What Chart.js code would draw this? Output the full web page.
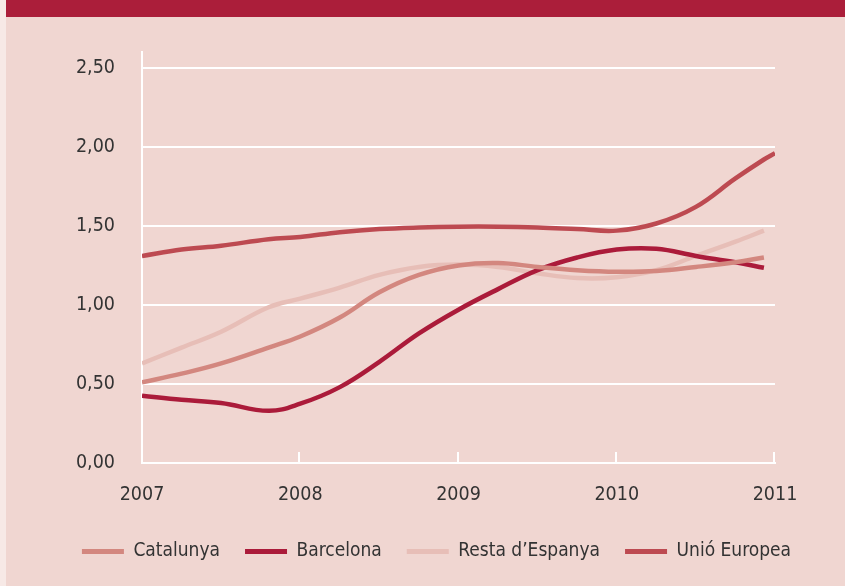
<!DOCTYPE html>
<html>
<head>
<meta charset="utf-8">
<script src="https://cdn.jsdelivr.net/npm/chart.js@4"></script>
<style>
  html, body { margin: 0; padding: 0; }
  body { width: 845px; height: 586px; background: #f7e9e6; overflow: hidden; }
  #frame { position: absolute; left: 6px; top: 0; width: 839px; height: 586px; background: #f0d6d1; }
  #header { height: 17px; background: #ab1e3a; }
  #wrap { position: absolute; left: 0; top: 17px; width: 839px; height: 569px; }
</style>
</head>
<body>
<div id="frame">
  <div id="header"></div>
  <div id="wrap"><canvas id="chart" width="839" height="569"></canvas></div>
</div>
<script>
// Data
const years = [2007, 2007.25, 2007.5, 2007.8, 2008, 2008.25, 2008.5, 2008.75, 2009, 2009.25, 2009.5, 2009.75, 2010, 2010.25, 2010.5, 2010.75, 2010.93, 2011];
const catalunya = [0.51, 0.565, 0.63, 0.73, 0.80, 0.92, 1.08, 1.19, 1.25, 1.265, 1.24, 1.22, 1.21, 1.215, 1.24, 1.27, 1.30, null];
const barcelona = [0.425, 0.40, 0.38, 0.33, 0.375, 0.48, 0.64, 0.82, 0.97, 1.10, 1.22, 1.30, 1.35, 1.355, 1.31, 1.27, 1.235, null];
const restaEspanya = [0.63, 0.73, 0.83, 0.985, 1.04, 1.11, 1.19, 1.24, 1.255, 1.24, 1.20, 1.17, 1.175, 1.22, 1.31, 1.40, 1.47, null];
const unioEuropea = [1.31, 1.35, 1.375, 1.415, 1.43, 1.46, 1.48, 1.49, 1.495, 1.495, 1.49, 1.48, 1.47, 1.515, 1.62, 1.80, 1.92, 1.96];
const yearTicks = [2007, 2008, 2009, 2010, 2011];
const valueTicks = [0, 0.5, 1, 1.5, 2, 2.5];

const seriesNames = ['Catalunya', 'Barcelona', 'Resta d\u2019Espanya', 'Unió Europea'];
const seriesColors = ['#d3877f', '#ab1b3a', '#e7beb7', '#bd4a51'];
const seriesValues = [catalunya, barcelona, restaEspanya, unioEuropea];

const FONT = '"Liberation Sans Narrow", "DejaVu Sans Condensed", sans-serif';

const toPoints = vals => years.map((y, i) => ({ x: y, y: vals[i] }));

// small upward tick marks on the x axis
const axisMarks = {
    id: 'axisMarks',
    beforeDatasetsDraw(chart) {
        const ctx = chart.ctx;
        const x = chart.scales.x;
        const y = chart.scales.y;
        const base = y.getPixelForValue(0);
        ctx.save();
        ctx.strokeStyle = '#ffffff';
        ctx.lineWidth = 2;
        yearTicks.slice(1).forEach(yr => {
            const px = Math.round(x.getPixelForValue(yr)) - 1;
            ctx.beginPath();
            ctx.moveTo(px, base);
            ctx.lineTo(px, base - 11);
            ctx.stroke();
        });
        ctx.restore();
    }
};

new Chart(document.getElementById('chart'), {
    type: 'line',
    data: {
        datasets: seriesNames.map((name, i) => ({
            label: name,
            data: toPoints(seriesValues[i]),
            borderColor: seriesColors[i],
            backgroundColor: seriesColors[i],
            borderWidth: 4.5,
            pointRadius: 0,
            tension: 0.4,
            fill: false
        }))
    },
    options: {
        responsive: false,
        animation: false,
        layout: { padding: { left: 22, top: 35, right: 0, bottom: 15 } },
        plugins: {
            tooltip: { enabled: false },
            legend: {
                position: 'bottom',
                labels: {
                    boxWidth: 42,
                    boxHeight: 5,
                    padding: 25,
                    color: '#333333',
                    font: { family: FONT, size: 19 },
                    generateLabels(chart) {
                        return Chart.defaults.plugins.legend.labels.generateLabels(chart).map(l => {
                            l.lineWidth = 0;
                            l.fillStyle = seriesColors[l.datasetIndex];
                            return l;
                        });
                    }
                }
            }
        },
        scales: {
            x: {
                type: 'linear',
                min: 2007,
                max: 2011,
                afterBuildTicks(scale) { scale.ticks = yearTicks.map(v => ({ value: v })); },
                afterFit(scale) { scale.height = 54; scale.paddingLeft = 0; scale.paddingRight = 0; },
                grid: { display: false, drawTicks: false },
                border: { display: true, color: '#ffffff', width: 2 },
                ticks: {
                    padding: 20,
                    maxRotation: 0,
                    color: '#333333',
                    font: { family: FONT, size: 19.5 },
                    callback: v => String(v)
                }
            },
            y: {
                min: 0,
                max: 2.6,
                afterBuildTicks(scale) { scale.ticks = valueTicks.concat([2.6]).map(v => ({ value: v })); },
                afterFit(scale) { scale.width = 114; scale.paddingTop = 0; scale.paddingBottom = 0; },
                grid: {
                    drawTicks: false,
                    lineWidth: 2,
                    color: ctx => ctx.tick && ctx.tick.value > 2.55 ? 'rgba(0,0,0,0)' : '#ffffff'
                },
                border: { display: true, color: '#ffffff', width: 2 },
                ticks: {
                    padding: 27,
                    color: '#333333',
                    font: { family: FONT, size: 19.5 },
                    callback: v => v > 2.55 ? '' : v.toFixed(2).replace('.', ',')
                }
            },
            // empty right axis, only keeps the space on the right of the plot
            yRight: {
                position: 'right',
                display: true,
                afterFit(scale) { scale.width = 70; scale.paddingTop = 0; scale.paddingBottom = 0; },
                grid: { display: false, drawTicks: false },
                border: { display: false },
                ticks: { display: false }
            }
        }
    },
    plugins: [axisMarks]
});
</script>
</body>
</html>
